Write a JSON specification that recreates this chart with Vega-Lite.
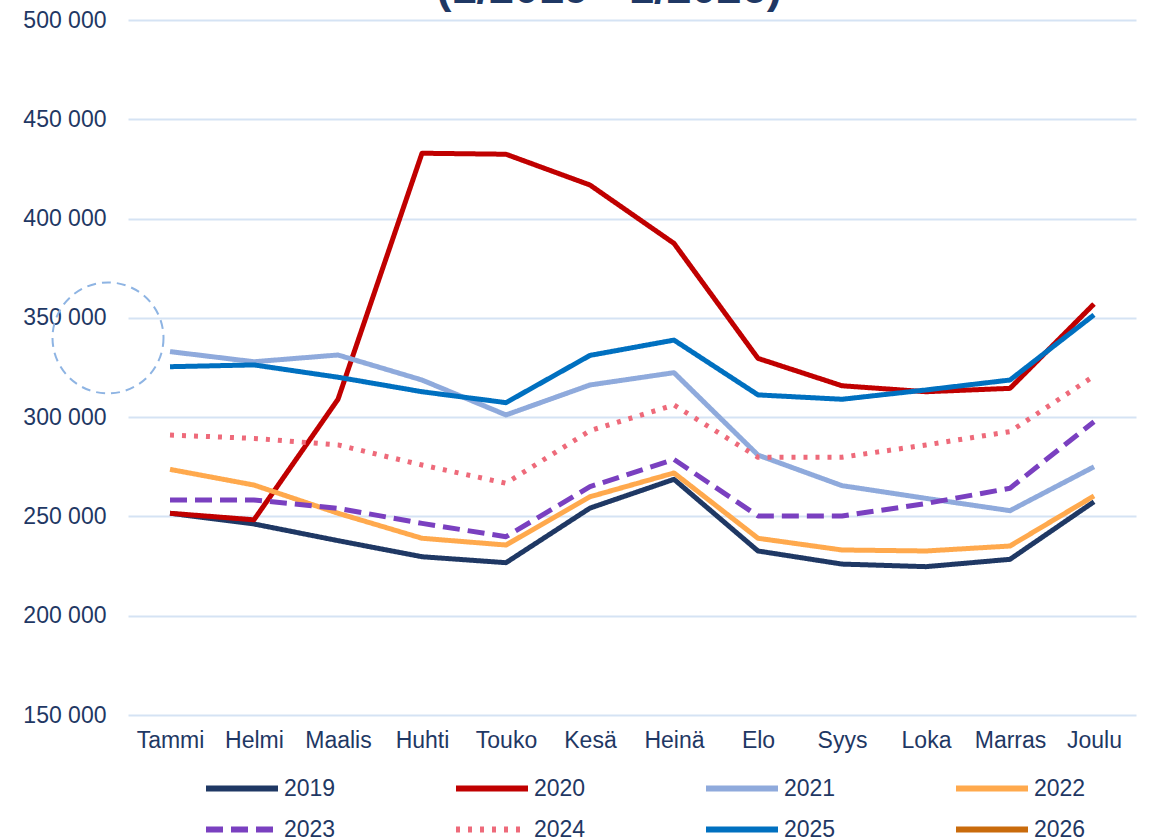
{
  "$schema": "https://vega.github.io/schema/vega-lite/v6.json",
  "width": 1008,
  "height": 695,
  "autosize": {"type": "none"},
  "padding": {"left": 128, "top": 20, "right": 14, "bottom": 123},
  "background": "white",
  "config": {"view": {"stroke": null}, "font": "Liberation Sans"},
  "datasets": {
    "series": [
      {"month": "Tammi", "year": "2019", "value": 251600},
      {"month": "Helmi", "year": "2019", "value": 246200},
      {"month": "Maalis", "year": "2019", "value": 237800},
      {"month": "Huhti", "year": "2019", "value": 229700},
      {"month": "Touko", "year": "2019", "value": 226700},
      {"month": "Kesä", "year": "2019", "value": 254200},
      {"month": "Heinä", "year": "2019", "value": 268700},
      {"month": "Elo", "year": "2019", "value": 232600},
      {"month": "Syys", "year": "2019", "value": 226000},
      {"month": "Loka", "year": "2019", "value": 224700},
      {"month": "Marras", "year": "2019", "value": 228400},
      {"month": "Joulu", "year": "2019", "value": 257400},
      {"month": "Tammi", "year": "2020", "value": 251600},
      {"month": "Helmi", "year": "2020", "value": 248300},
      {"month": "Maalis", "year": "2020", "value": 309000},
      {"month": "Huhti", "year": "2020", "value": 432900},
      {"month": "Touko", "year": "2020", "value": 432400},
      {"month": "Kesä", "year": "2020", "value": 416900},
      {"month": "Heinä", "year": "2020", "value": 387500},
      {"month": "Elo", "year": "2020", "value": 329600},
      {"month": "Syys", "year": "2020", "value": 315800},
      {"month": "Loka", "year": "2020", "value": 312800},
      {"month": "Marras", "year": "2020", "value": 314500},
      {"month": "Joulu", "year": "2020", "value": 357000},
      {"month": "Tammi", "year": "2021", "value": 333000},
      {"month": "Helmi", "year": "2021", "value": 327900},
      {"month": "Maalis", "year": "2021", "value": 331300},
      {"month": "Huhti", "year": "2021", "value": 318700},
      {"month": "Touko", "year": "2021", "value": 301100},
      {"month": "Kesä", "year": "2021", "value": 316200},
      {"month": "Heinä", "year": "2021", "value": 322400},
      {"month": "Elo", "year": "2021", "value": 280900},
      {"month": "Syys", "year": "2021", "value": 265500},
      {"month": "Loka", "year": "2021", "value": 259100},
      {"month": "Marras", "year": "2021", "value": 252900},
      {"month": "Joulu", "year": "2021", "value": 275000},
      {"month": "Tammi", "year": "2022", "value": 273700},
      {"month": "Helmi", "year": "2022", "value": 265800},
      {"month": "Maalis", "year": "2022", "value": 251600},
      {"month": "Huhti", "year": "2022", "value": 239000},
      {"month": "Touko", "year": "2022", "value": 235600},
      {"month": "Kesä", "year": "2022", "value": 259900},
      {"month": "Heinä", "year": "2022", "value": 271900},
      {"month": "Elo", "year": "2022", "value": 239000},
      {"month": "Syys", "year": "2022", "value": 233100},
      {"month": "Loka", "year": "2022", "value": 232600},
      {"month": "Marras", "year": "2022", "value": 235100},
      {"month": "Joulu", "year": "2022", "value": 260300},
      {"month": "Tammi", "year": "2023", "value": 258300},
      {"month": "Helmi", "year": "2023", "value": 258300},
      {"month": "Maalis", "year": "2023", "value": 254100},
      {"month": "Huhti", "year": "2023", "value": 246500},
      {"month": "Touko", "year": "2023", "value": 239800},
      {"month": "Kesä", "year": "2023", "value": 265000},
      {"month": "Heinä", "year": "2023", "value": 278700},
      {"month": "Elo", "year": "2023", "value": 250200},
      {"month": "Syys", "year": "2023", "value": 250200},
      {"month": "Loka", "year": "2023", "value": 256500},
      {"month": "Marras", "year": "2023", "value": 264200},
      {"month": "Joulu", "year": "2023", "value": 297700},
      {"month": "Tammi", "year": "2024", "value": 291000},
      {"month": "Helmi", "year": "2024", "value": 289300},
      {"month": "Maalis", "year": "2024", "value": 286000},
      {"month": "Huhti", "year": "2024", "value": 275900},
      {"month": "Touko", "year": "2024", "value": 266700},
      {"month": "Kesä", "year": "2024", "value": 293200},
      {"month": "Heinä", "year": "2024", "value": 306100},
      {"month": "Elo", "year": "2024", "value": 279800},
      {"month": "Syys", "year": "2024", "value": 279800},
      {"month": "Loka", "year": "2024", "value": 286000},
      {"month": "Marras", "year": "2024", "value": 292700},
      {"month": "Joulu", "year": "2024", "value": 320700},
      {"month": "Tammi", "year": "2025", "value": 325400},
      {"month": "Helmi", "year": "2025", "value": 326300},
      {"month": "Maalis", "year": "2025", "value": 320100},
      {"month": "Huhti", "year": "2025", "value": 312800},
      {"month": "Touko", "year": "2025", "value": 307300},
      {"month": "Kesä", "year": "2025", "value": 331100},
      {"month": "Heinä", "year": "2025", "value": 338800},
      {"month": "Elo", "year": "2025", "value": 311200},
      {"month": "Syys", "year": "2025", "value": 309000},
      {"month": "Loka", "year": "2025", "value": 313700},
      {"month": "Marras", "year": "2025", "value": 318700},
      {"month": "Joulu", "year": "2025", "value": 351500}
    ],
    "marker": [
      {"month": "Tammi", "value": 339900}
    ],
    "heading": [
      {"month": "Kesä", "value": 508560, "label": "(1/2019 - 1/2026)"}
    ]
  },
  "layer": [
    {
      "data": {"name": "series"},
      "mark": {"type": "line", "strokeWidth": 5, "strokeJoin": "round"},
      "encoding": {
        "x": {
          "field": "month",
          "type": "nominal",
          "sort": ["Tammi", "Helmi", "Maalis", "Huhti", "Touko", "Kesä", "Heinä", "Elo", "Syys", "Loka", "Marras", "Joulu"],
          "axis": {
            "title": null,
            "labelAngle": 0,
            "ticks": false,
            "domain": false,
            "grid": false,
            "labelFontSize": 23,
            "labelColor": "#1F3864",
            "labelFont": "Liberation Sans",
            "labelPadding": 14
          }
        },
        "y": {
          "field": "value",
          "type": "quantitative",
          "scale": {"domain": [150000, 500000], "nice": false, "zero": false},
          "axis": {
            "title": null,
            "values": [150000, 200000, 250000, 300000, 350000, 400000, 450000, 500000],
            "labelExpr": "replace(format(datum.value, ','), ',', ' ')",
            "ticks": false,
            "domain": false,
            "grid": true,
            "gridColor": "#D5E3F4",
            "gridWidth": 2,
            "labelFontSize": 23,
            "labelColor": "#1F3864",
            "labelFont": "Liberation Sans",
            "labelPadding": 22
          }
        },
        "color": {
          "field": "year",
          "type": "nominal",
          "scale": {
            "domain": ["2019", "2020", "2021", "2022", "2023", "2024", "2025", "2026"],
            "range": ["#1F3864", "#C00000", "#8FAADC", "#FFA94D", "#7A40C0", "#EE6A7A", "#0070C0", "#C96B0C"]
          },
          "legend": {
            "title": null,
            "orient": "none",
            "legendX": 75,
            "legendY": 748,
            "direction": "horizontal",
            "columns": 4,
            "symbolType": "stroke",
            "symbolSize": 5184,
            "symbolStrokeWidth": 6,
            "labelFontSize": 23,
            "labelColor": "#1F3864",
            "labelFont": "Liberation Sans",
            "labelOffset": 3,
            "columnPadding": 117,
            "rowPadding": 0,
            "clipHeight": 41,
            "padding": 0
          }
        },
        "strokeDash": {
          "field": "year",
          "type": "nominal",
          "scale": {
            "domain": ["2019", "2020", "2021", "2022", "2023", "2024", "2025", "2026"],
            "range": [[1, 0], [1, 0], [1, 0], [1, 0], [17, 8], [4, 8], [1, 0], [1, 0]]
          },
          "legend": {
            "title": null,
            "orient": "none",
            "legendX": 75,
            "legendY": 748,
            "direction": "horizontal",
            "columns": 4,
            "symbolType": "stroke",
            "symbolSize": 5184,
            "symbolStrokeWidth": 6,
            "labelFontSize": 23,
            "labelColor": "#1F3864",
            "labelFont": "Liberation Sans",
            "labelOffset": 3,
            "columnPadding": 117,
            "rowPadding": 0,
            "clipHeight": 41,
            "padding": 0
          }
        }
      }
    },
    {
      "data": {"name": "marker"},
      "mark": {
        "type": "point",
        "shape": "circle",
        "size": 12321,
        "filled": false,
        "stroke": "#8EB4E3",
        "strokeWidth": 2,
        "strokeDash": [9, 6],
        "xOffset": -62,
        "opacity": 1,
        "clip": false
      },
      "encoding": {
        "x": {"field": "month", "type": "nominal", "sort": ["Tammi", "Helmi", "Maalis", "Huhti", "Touko", "Kesä", "Heinä", "Elo", "Syys", "Loka", "Marras", "Joulu"]},
        "y": {"field": "value", "type": "quantitative"}
      }
    },
    {
      "data": {"name": "heading"},
      "mark": {
        "type": "text",
        "font": "Liberation Sans",
        "fontSize": 45,
        "fontWeight": "bold",
        "color": "#1F3864",
        "align": "center",
        "baseline": "alphabetic",
        "xOffset": 19,
        "clip": false
      },
      "encoding": {
        "x": {"field": "month", "type": "nominal", "sort": ["Tammi", "Helmi", "Maalis", "Huhti", "Touko", "Kesä", "Heinä", "Elo", "Syys", "Loka", "Marras", "Joulu"]},
        "y": {"field": "value", "type": "quantitative"},
        "text": {"field": "label"}
      }
    }
  ]
}
